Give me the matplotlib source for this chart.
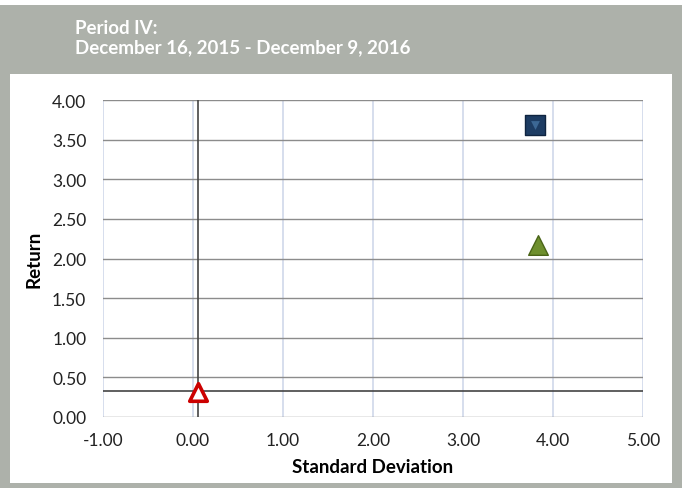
import matplotlib

matplotlib.use("Agg")
import matplotlib.pyplot as plt
from matplotlib.patches import Rectangle

# data
x_ticks = [-1.0, 0.0, 1.0, 2.0, 3.0, 4.0, 5.0]
y_ticks = [0.0, 0.5, 1.0, 1.5, 2.0, 2.5, 3.0, 3.5, 4.0]
portfolio_sd = [3.80]
portfolio_ret = [3.69]
index_sd = [3.83]
index_ret = [2.17]
riskfree_sd = [0.05]
riskfree_ret = [0.32]
ref_x = 0.05
ref_y = 0.33

plt.rcParams["font.family"] = ["Lato", "DejaVu Sans"]

frame_gray = "#adb1aa"
fig = plt.figure(figsize=(6.82, 4.89), dpi=100)
fig.patch.set_facecolor(frame_gray)

# white strip on top and white panel below the header band
fig.patches.append(
    Rectangle((0, 1 - 6 / 489), 1, 6 / 489,
              transform=fig.transFigure, facecolor="white", edgecolor="none", zorder=-5)
)
fig.patches.append(
    Rectangle((10 / 682, 5 / 489), 662 / 682, 409 / 489,
              transform=fig.transFigure, facecolor="white", edgecolor="none", zorder=-5)
)

fig.text(75 / 682, 1 - 28 / 489, "Period IV:", color="white", fontsize=13.5,
         weight="bold", va="center", ha="left")
fig.text(75 / 682, 1 - 48 / 489, "December 16, 2015 - December 9, 2016", color="white",
         fontsize=13.5, weight="bold", va="center", ha="left")

ax = fig.add_axes([103 / 682, 71 / 489, 540 / 682, 317 / 489])
ax.set_zorder(2)
ax.set_facecolor("white")
ax.set_xlim(-1, 5)
ax.set_ylim(0, 4)
ax.set_xticks(x_ticks)
ax.set_yticks(y_ticks)
ax.set_xticklabels([f"{v:.2f}" for v in x_ticks], fontsize=12.5)
ax.set_yticklabels([f"{v:.2f}" for v in y_ticks], fontsize=12.5)
ax.tick_params(axis="x", length=0, pad=11, colors="#222222")
ax.tick_params(axis="y", length=0, pad=12, colors="#222222")

for v in x_ticks:
    ax.axvline(v, color="#d0d8ea", linewidth=1.2, zorder=1)
for v in y_ticks:
    ax.axhline(v, color="#8c8c8c", linewidth=1.0, zorder=1)
for side in ["top", "right", "left", "bottom"]:
    ax.spines[side].set_visible(False)

ax.axvline(ref_x, color="#444444", linewidth=1.2, zorder=2)
ax.axhline(ref_y, color="#444444", linewidth=1.2, zorder=2)

ax.scatter(portfolio_sd, portfolio_ret, marker="s", s=190, color="#1d3c63",
           edgecolors="#0f2440", linewidths=1.0, zorder=4)
ax.scatter(portfolio_sd, portfolio_ret, marker="v", s=40, color="#3c6794",
           linewidths=0, zorder=5)
ax.scatter(index_sd, index_ret, marker="^", s=200, color="#6e8f2e",
           edgecolors="#4a6418", linewidths=1.0, zorder=4)
ax.scatter(riskfree_sd, riskfree_ret, marker="^", s=160, facecolors="white",
           edgecolors="#cc0000", linewidths=2.6, zorder=4)

ax.set_xlabel("Standard Deviation", fontsize=13.5, weight="bold", labelpad=7)
ax.set_ylabel("Return", fontsize=13.5, weight="bold", labelpad=7)

fig.savefig("out.png", dpi=100, facecolor=fig.get_facecolor())
